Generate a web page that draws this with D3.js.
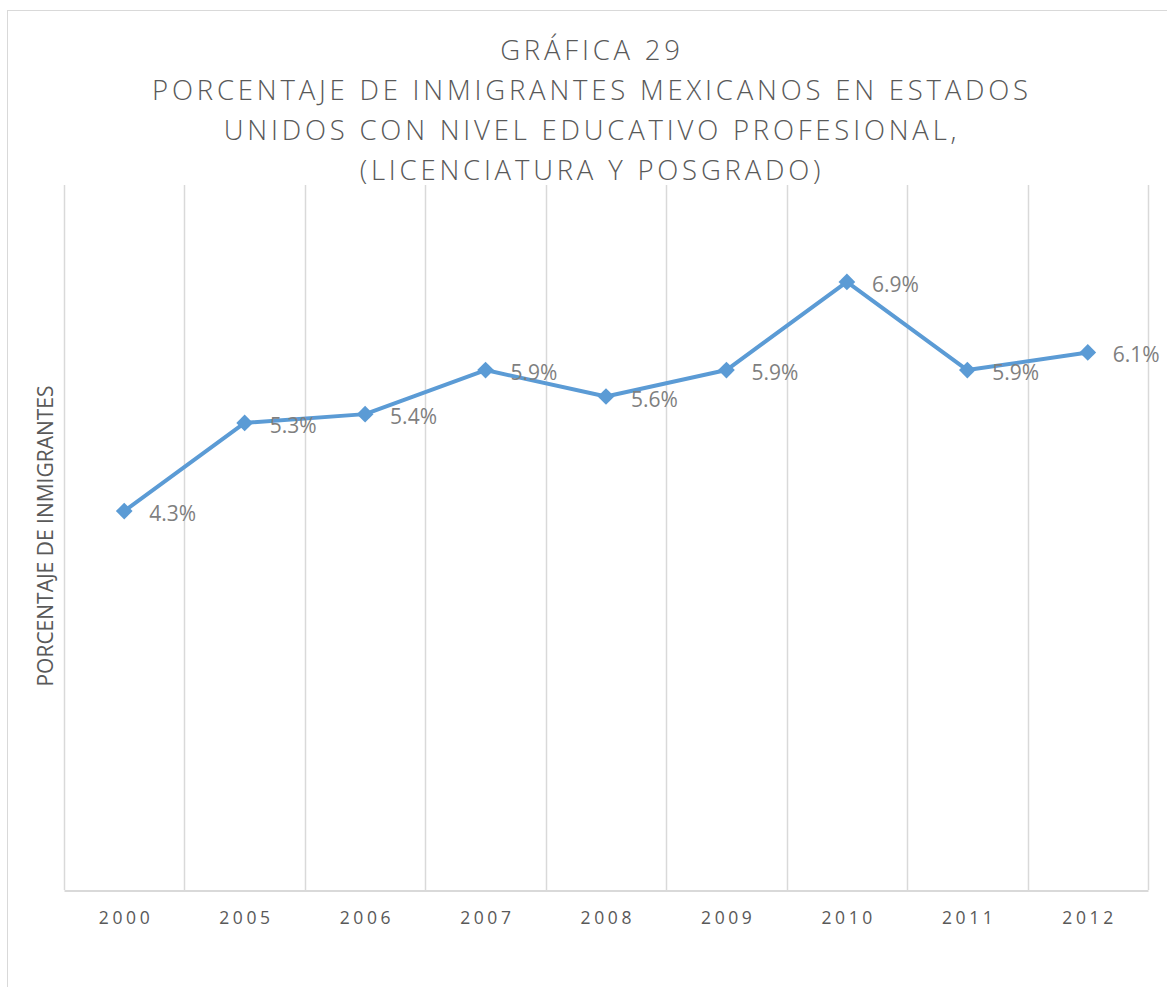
<!DOCTYPE html>
<html>
<head>
<meta charset="utf-8">
<script src="https://cdn.jsdelivr.net/npm/d3@7"></script>
<style>
  body { margin: 0; background: #fff; font-family: "Open Sans", sans-serif; }
</style>
</head>
<body>
<script>
// data
var years = ["2000", "2005", "2006", "2007", "2008", "2009", "2010", "2011", "2012"]
var percents = [4.3, 5.3, 5.4, 5.9, 5.6, 5.9, 6.9, 5.9, 6.1]
var titleLines = ["GRÁFICA 29",
  "PORCENTAJE DE INMIGRANTES MEXICANOS EN ESTADOS",
  "UNIDOS CON NIVEL EDUCATIVO PROFESIONAL,",
  "(LICENCIATURA Y POSGRADO)"]
var yTitle = "PORCENTAJE DE INMIGRANTES"

var data = years.map(function(y, i) { return {year: y, value: percents[i]} })

var width = 1167, height = 987
var margin = {top: 185, right: 19, bottom: 97, left: 64}

var svg = d3.select("body").append("svg")
    .attr("width", width)
    .attr("height", height)

// chart border
svg.append("rect")
    .attr("x", 7.5).attr("y", 10.5)
    .attr("width", 1180).attr("height", 1000)
    .attr("fill", "white")
    .attr("stroke", "#d9d9d9")
    .attr("stroke-width", 1)

var xScale = d3.scaleBand()
    .domain(years)
    .range([margin.left, width - margin.right])

var yScale = d3.scaleLinear()
    .domain([0, 8])
    .range([height - margin.bottom, margin.top])

// vertical gridlines at category boundaries
var bounds = years.map(function(y) { return xScale(y) }).concat([xScale.range()[1]])
svg.append("g")
  .selectAll("line")
  .data(bounds)
  .enter().append("line")
    .attr("x1", function(d) { return Math.round(d) + 0.5 })
    .attr("x2", function(d) { return Math.round(d) + 0.5 })
    .attr("y1", yScale(8))
    .attr("y2", yScale(0))
    .attr("stroke", "#d9d9d9")
    .attr("stroke-width", 1.5)

// x axis
var xAxis = svg.append("g")
    .attr("transform", "translate(0," + (yScale(0) + 0.5) + ")")
    .call(d3.axisBottom(xScale).tickSize(0).tickPadding(21))
xAxis.select(".domain").attr("stroke", "#d9d9d9").attr("stroke-width", 2)
xAxis.selectAll("text")
    .attr("font-family", "Open Sans, sans-serif")
    .attr("font-size", 17.5)
    .attr("fill", "#595959")
    .attr("letter-spacing", "3.6px")
    .attr("dx", "1.8px")

// line
var line = d3.line()
    .x(function(d) { return xScale(d.year) + xScale.bandwidth() / 2 })
    .y(function(d) { return yScale(d.value) })

svg.append("path")
    .datum(data)
    .attr("d", line)
    .attr("fill", "none")
    .attr("stroke", "#5b9bd5")
    .attr("stroke-width", 4)
    .attr("stroke-linejoin", "round")

// diamond markers
svg.append("g")
  .selectAll("path")
  .data(data)
  .enter().append("path")
    .attr("d", d3.symbol().type(d3.symbolSquare).size(140))
    .attr("transform", function(d) {
      return "translate(" + (xScale(d.year) + xScale.bandwidth() / 2) + "," + yScale(d.value) + ") rotate(45)"
    })
    .attr("fill", "#5b9bd5")

// data labels
svg.append("g")
  .selectAll("text")
  .data(data)
  .enter().append("text")
    .attr("x", function(d) { return xScale(d.year) + xScale.bandwidth() / 2 + 25 })
    .attr("y", function(d) { return yScale(d.value) + 10 })
    .attr("font-family", "Open Sans, sans-serif")
    .attr("font-size", 21)
    .attr("fill", "#7f7f7f")
    .text(function(d) { return d.value.toFixed(1) + "%" })

// title
svg.append("g")
  .selectAll("text")
  .data(titleLines)
  .enter().append("text")
    .attr("x", 592)
    .attr("y", function(d, i) { return 60 + i * 40 })
    .attr("text-anchor", "middle")
    .attr("font-family", "Open Sans, sans-serif")
    .attr("font-size", 27.5)
    .attr("font-weight", 300)
    .attr("letter-spacing", "3.8px")
    .attr("fill", "#595959")
    .text(function(d) { return d })

// y axis title
svg.append("text")
    .attr("transform", "translate(53,536) rotate(-90)")
    .attr("text-anchor", "middle")
    .attr("font-family", "Open Sans, sans-serif")
    .attr("font-size", 21)
    .attr("fill", "#595959")
    .text(yTitle)
</script>
</body>
</html>
